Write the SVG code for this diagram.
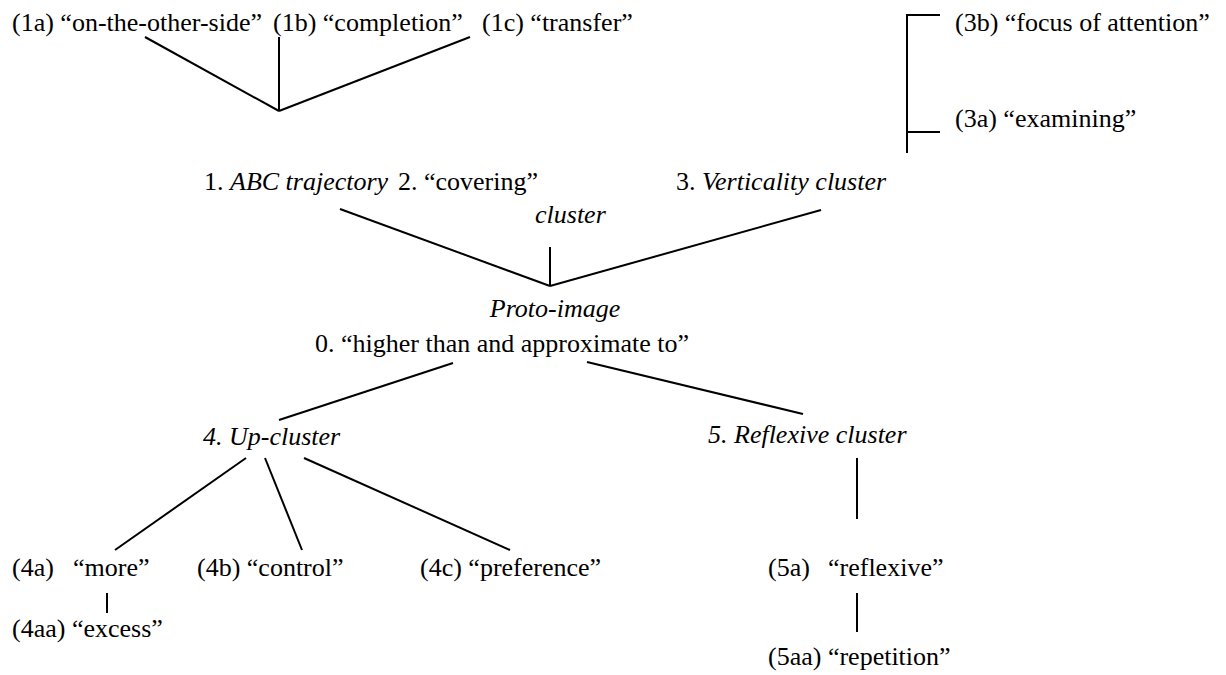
<svg xmlns="http://www.w3.org/2000/svg" width="1226" height="675" viewBox="0 0 1226 675">
<style>
text{font-size:26px;fill:#000}
.i{font-style:italic}
.c line,.c polyline{stroke:#000;stroke-width:2;fill:none}
</style>
<rect width="1226" height="675" fill="#fff"/>
<g class="c" id="connectors">
<line x1="145" y1="37" x2="279" y2="111"/>
<line x1="279" y1="37" x2="279" y2="111"/>
<line x1="470" y1="37" x2="279" y2="111"/>
<polyline points="940,15 907,15 907,153"/>
<line x1="907" y1="132" x2="940" y2="132"/>
<line x1="340" y1="209" x2="550" y2="286"/>
<line x1="550" y1="247" x2="550" y2="286"/>
<line x1="821" y1="210" x2="550" y2="286"/>
<line x1="453" y1="363" x2="279" y2="420"/>
<line x1="587" y1="362" x2="803" y2="414"/>
<line x1="246" y1="458" x2="115" y2="550"/>
<line x1="265" y1="458" x2="302" y2="550"/>
<line x1="304" y1="458" x2="510" y2="550"/>
<line x1="857" y1="458" x2="857" y2="519"/>
<line x1="107" y1="593" x2="107" y2="613"/>
<line x1="857" y1="593" x2="857" y2="632"/>
</g>
<g font-family="Liberation Serif, DejaVu Serif, serif">
<g id="n1a"><text x="12" y="31">(1a) “on-the-other-side”</text></g>
<g id="n1b"><text x="273" y="31">(1b) “completion”</text></g>
<g id="n1c"><text x="482" y="31">(1c) “transfer”</text></g>
<g id="n3b"><text x="955" y="31">(3b) “focus of attention”</text></g>
<g id="n3a"><text x="955" y="127">(3a) “examining”</text></g>
<g id="n1"><text x="204" y="190">1. <tspan class="i">ABC trajectory</tspan></text></g>
<g id="n2"><text x="398" y="190">2. “covering”</text><text class="i" x="535" y="223">cluster</text></g>
<g id="n3"><text x="676" y="190">3. <tspan class="i">Verticality cluster</tspan></text></g>
<g id="n0"><text class="i" x="555" y="317" text-anchor="middle">Proto-image</text><text x="315" y="352">0. “higher than and approximate to”</text></g>
<g id="n4"><text class="i" x="203" y="445">4. Up-cluster</text></g>
<g id="n5"><text class="i" x="708" y="443">5. Reflexive cluster</text></g>
<g id="n4a"><text x="12" y="576">(4a)</text><text x="73" y="576">“more”</text></g>
<g id="n4b"><text x="197" y="576">(4b) “control”</text></g>
<g id="n4c"><text x="420" y="576">(4c) “preference”</text></g>
<g id="n5a"><text x="768" y="576">(5a)</text><text x="828" y="576">“reflexive”</text></g>
<g id="n4aa"><text x="12" y="637">(4aa) “excess”</text></g>
<g id="n5aa"><text x="768" y="665">(5aa) “repetition”</text></g>
</g>
</svg>
